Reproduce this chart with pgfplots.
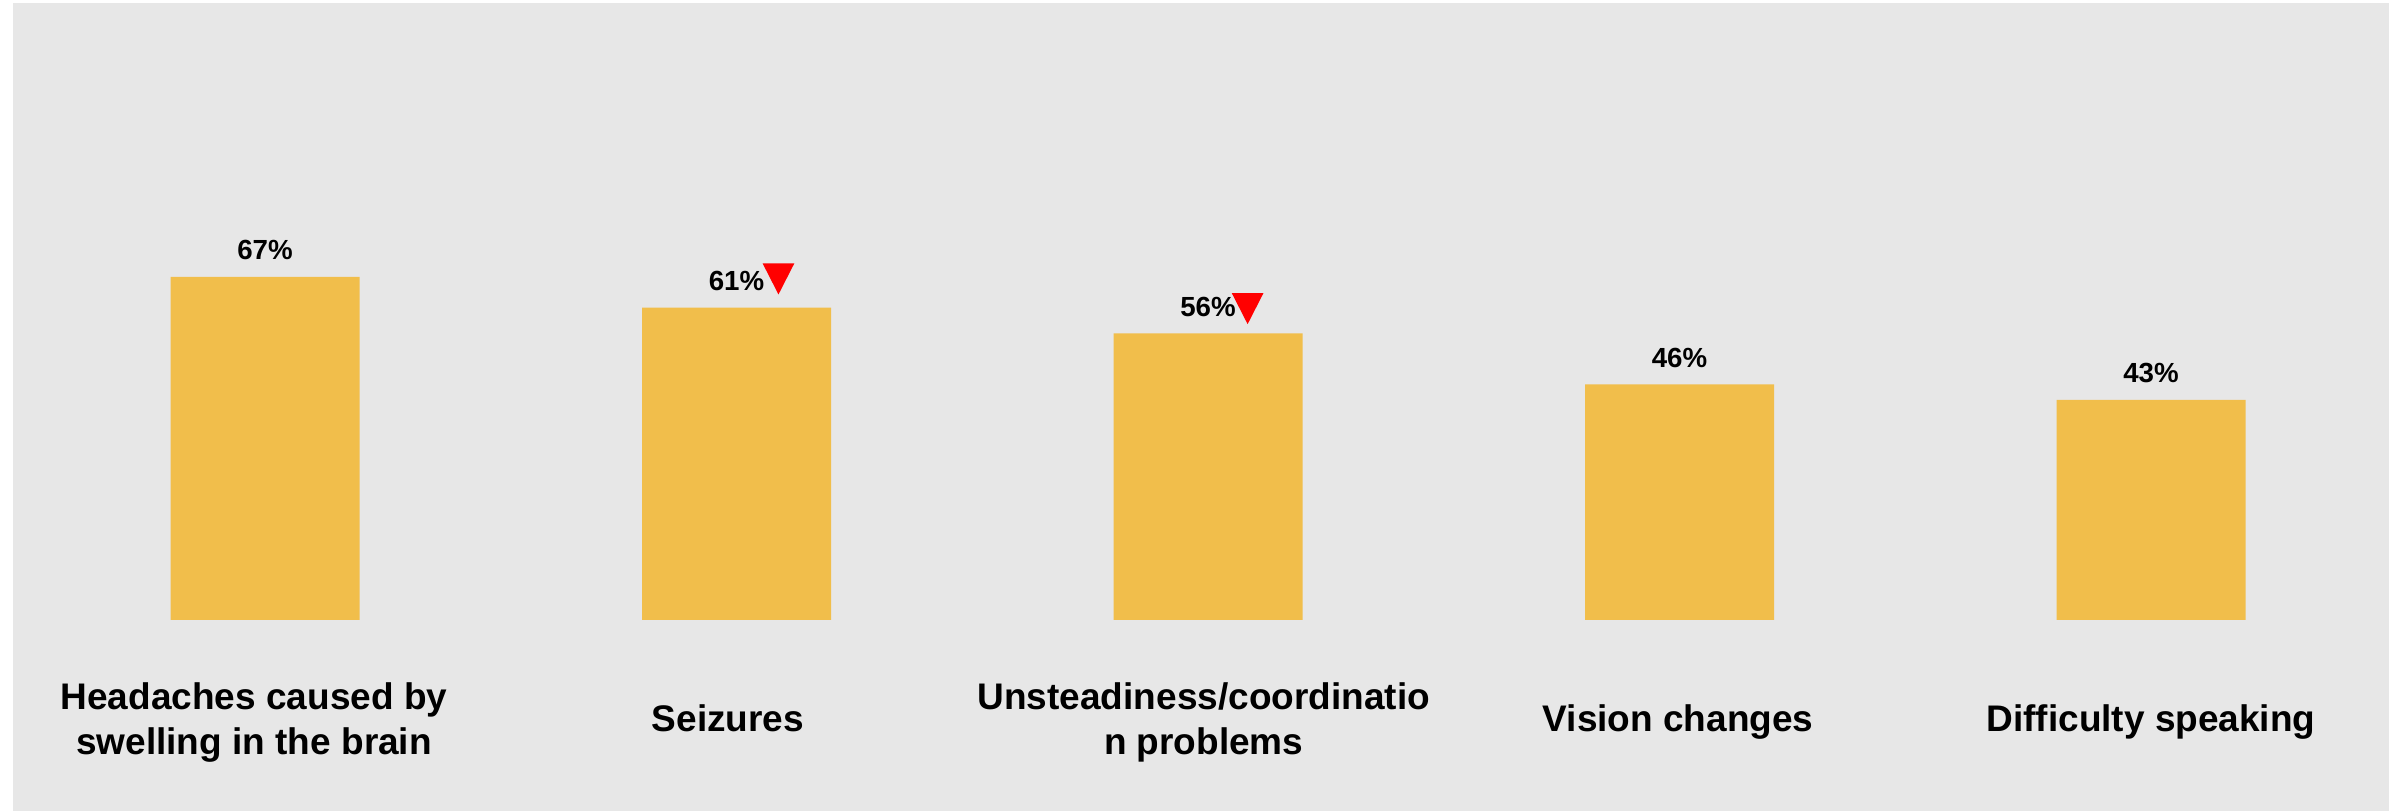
\documentclass[border=0pt]{standalone}
\usepackage{pgfplots}
\pgfplotsset{compat=1.18}
\usepackage{fontspec}
\setmainfont{Liberation Sans}
\definecolor{bgc}{HTML}{E7E7E7}
\definecolor{barc}{HTML}{F1BE4B}
% downward triangle used to flag the significant drops
\pgfdeclareplotmark{downtri}{%
  \pgfpathmoveto{\pgfqpoint{-4.74pt}{4.65pt}}%
  \pgfpathlineto{\pgfqpoint{4.74pt}{4.65pt}}%
  \pgfpathlineto{\pgfqpoint{0pt}{-4.65pt}}%
  \pgfpathclose\pgfusepathqfill}

\begin{document}
\begin{tikzpicture}
\begin{axis}[
  width=720pt, height=243.3pt, scale only axis,
  xmin=-0.56204, xmax=4.52810, ymin=-37.305, ymax=121.09,
  axis on top,
  axis line style={draw=none},
  ytick=\empty,
  xtick={-0.0233,0.982,1.991,2.997,4},
  xticklabels={
    {\begin{tabular}{@{}c@{}}Headaches caused by\\swelling in the brain\end{tabular}},
    {Seizures},
    {\begin{tabular}{@{}c@{}}Unsteadiness/coordinatio\\n problems\end{tabular}},
    {Vision changes},
    {Difficulty speaking}},
  xtick style={draw=none},
  major tick length=0pt,
  xticklabel style={anchor=base, yshift=23.8pt,
    font=\fontsize{11.1}{13.5}\selectfont\bfseries},
  /pgf/number format/assume math mode=true,
  clip=false,
]
\fill[bgc] (rel axis cs:0.005417,0) rectangle (rel axis cs:0.99542,0.9963);

\addplot[ybar, bar width=56.7pt, bar shift=0pt, fill=barc, draw=none,
  nodes near coords={\pgfmathprintnumber{\pgfplotspointmeta}\%},
  nodes near coords style={anchor=base, yshift=5.1pt, text=black,
    font=\fontsize{8.3}{10}\selectfont\bfseries}
] coordinates {
  (0, 67)
  (1, 61)
  (2, 56)
  (3, 46)
  (4, 43)
};

\addplot[only marks, mark=downtri, red] coordinates {
  (1.089, 66.6)
  (2.084, 60.8)
};
\end{axis}
\end{tikzpicture}
\end{document}
